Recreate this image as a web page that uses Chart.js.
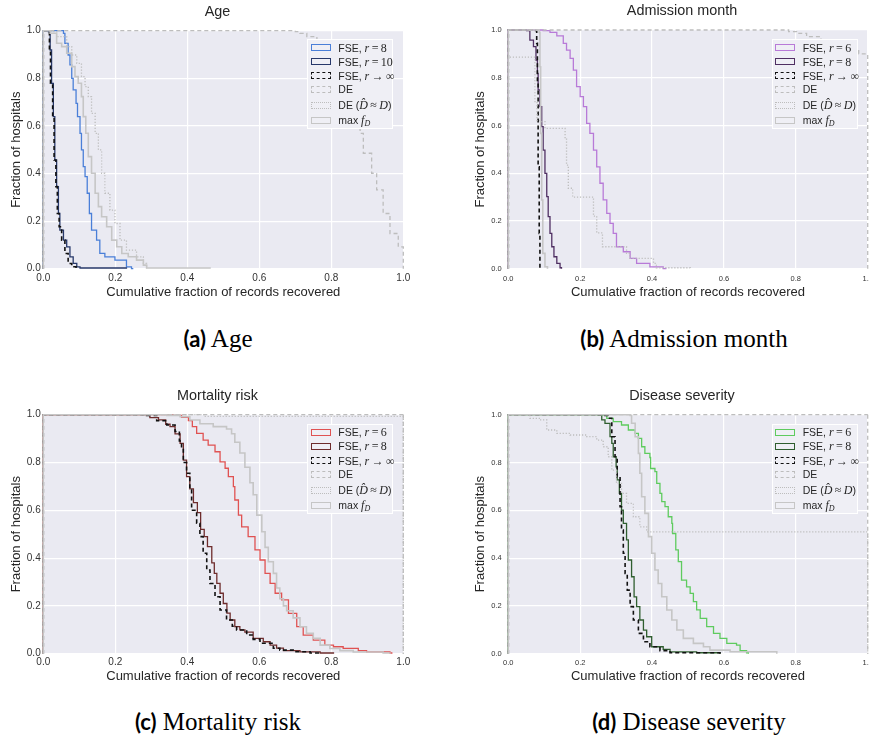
<!DOCTYPE html>
<html><head><meta charset="utf-8">
<script src="https://cdn.jsdelivr.net/npm/chart.js@4.4.0/dist/chart.umd.min.js"></script>
<style>
html,body{margin:0;padding:0;background:#fff;width:869px;height:740px;overflow:hidden;position:relative;}
canvas{position:absolute;}
.ttl{position:absolute;transform:translate(-50%,-50%);white-space:nowrap;font-family:"Liberation Sans",Arial,sans-serif;font-size:14.4px;color:#262626;}
.lg{position:absolute;background:#efeff5;border:1px solid #fff;box-sizing:border-box;}
.row{position:absolute;height:14px;line-height:14px;white-space:nowrap;font-family:"Liberation Sans",Arial,sans-serif;font-size:10.5px;color:#262626;}
.sw{position:absolute;width:20px;height:7px;box-sizing:border-box;}
.m{font-family:"Liberation Serif","DejaVu Serif",serif;font-size:12px;}
.m sub{font-size:8px;vertical-align:-2px;}
.cap{position:absolute;transform:translate(-50%,-50%);white-space:nowrap;font-family:"Liberation Serif",serif;font-size:25px;color:#000;}
.cap b{font-family:Lato,"Liberation Sans",sans-serif;font-weight:700;font-size:22px;}
</style></head><body>
<script>
// ---------- tick labels ----------
const TICKS = [0, 0.2, 0.4, 0.6, 0.8, 1.0];

// ---------- (a) Age : [cumulative fraction recovered, fraction of hospitals] ----------
const ageR8 = [[0,0],[0,1],[0.056,0.989],[0.060,0.947],[0.069,0.898],[0.074,0.856],[0.079,0.800],[0.083,0.751],[0.091,0.695],[0.095,0.639],[0.102,0.569],[0.106,0.499],[0.111,0.429],[0.116,0.387],[0.122,0.317],[0.128,0.232],[0.134,0.162],[0.148,0.120],[0.157,0.064],[0.171,0.050],[0.199,0.036],[0.231,0.008],[0.245,0],[0.25,0]];
const ageR10 = [[0,0],[0,1],[0.014,0.996],[0.019,0.919],[0.023,0.779],[0.028,0.639],[0.032,0.457],[0.037,0.345],[0.042,0.232],[0.046,0.162],[0.056,0.120],[0.065,0.092],[0.074,0.050],[0.083,0.022],[0.093,0.008],[0.102,0.003],[0.231,0]];
const ageInf = [[0,0],[0,1],[0.009,0.996],[0.017,0.919],[0.020,0.779],[0.026,0.639],[0.030,0.457],[0.035,0.345],[0.039,0.232],[0.044,0.176],[0.051,0.120],[0.060,0.064],[0.069,0.022],[0.079,0.008],[0.091,0]];
const ageDE = [[0,0],[0,1],[0.70,0.996],[0.713,0.989],[0.732,0.975],[0.76,0.93],[0.79,0.86],[0.82,0.77],[0.85,0.68],[0.87,0.61],[0.880,0.569],[0.889,0.485],[0.912,0.401],[0.926,0.331],[0.944,0.232],[0.963,0.148],[0.986,0.092],[1.0,0.064],[1.0,0]];
const ageDEhat = [[0,0],[0,1],[0.019,0.996],[0.037,0.975],[0.065,0.933],[0.079,0.898],[0.093,0.863],[0.106,0.807],[0.116,0.765],[0.125,0.723],[0.134,0.653],[0.144,0.569],[0.153,0.499],[0.162,0.401],[0.171,0.317],[0.185,0.246],[0.199,0.190],[0.213,0.120],[0.231,0.078],[0.259,0.050],[0.278,0.022],[0.287,0]];
const ageMax = [[0,0],[0,1],[0.019,0.989],[0.037,0.947],[0.051,0.933],[0.065,0.905],[0.079,0.849],[0.088,0.807],[0.097,0.779],[0.106,0.723],[0.111,0.639],[0.118,0.569],[0.125,0.471],[0.134,0.401],[0.144,0.317],[0.153,0.261],[0.162,0.218],[0.176,0.176],[0.190,0.120],[0.204,0.092],[0.218,0.064],[0.236,0.050],[0.259,0.036],[0.278,0.015],[0.287,0.003],[0.463,0]];

// ---------- (b) Admission month ----------
const admR6 = [[0,0],[0,1],[0.097,0.997],[0.116,0.990],[0.135,0.975],[0.153,0.944],[0.162,0.916],[0.172,0.881],[0.181,0.832],[0.190,0.763],[0.200,0.721],[0.209,0.679],[0.218,0.609],[0.227,0.567],[0.237,0.497],[0.246,0.427],[0.255,0.358],[0.264,0.288],[0.274,0.232],[0.283,0.190],[0.292,0.148],[0.301,0.092],[0.320,0.071],[0.339,0.043],[0.357,0.022],[0.394,0.008],[0.431,0],[0.44,0]];
const admR8 = [[0,0],[0,1],[0.051,0.997],[0.060,0.958],[0.070,0.930],[0.077,0.874],[0.081,0.818],[0.083,0.749],[0.088,0.679],[0.093,0.595],[0.097,0.497],[0.102,0.399],[0.107,0.302],[0.111,0.218],[0.116,0.148],[0.121,0.092],[0.127,0.050],[0.135,0.022],[0.144,0.004],[0.148,0]];
const admInf = [[0,0],[0,1],[0.076,0.998],[0.079,0.944],[0.081,0.777],[0.083,0.427],[0.086,0.148],[0.088,0]];
const admDE = [[0,0],[0,1],[0.78,0.993],[0.802,0.986],[0.830,0.972],[0.87,0.95],[0.92,0.92],[0.975,0.90],[1.0,0.90],[1.0,0]];
const admDEhat = [[0,0],[0,0.886],[0.074,0.70],[0.080,0.62],[0.088,0.616],[0.102,0.588],[0.158,0.546],[0.162,0.434],[0.167,0.337],[0.179,0.30],[0.237,0.22],[0.246,0.15],[0.262,0.092],[0.329,0.064],[0.338,0.043],[0.404,0.022],[0.412,0.004],[0.506,0]];
const admMax = [[0,0],[0,1],[0.086,0.99],[0.088,0.846],[0.090,0.567],[0.093,0.288],[0.096,0.064],[0.102,0.008],[0.109,0]];

// ---------- (c) Mortality risk ----------
const morR6 = [[0,0],[0,1],[0.361,0.997],[0.384,0.989],[0.403,0.975],[0.414,0.950],[0.426,0.922],[0.444,0.894],[0.458,0.873],[0.477,0.845],[0.491,0.803],[0.505,0.776],[0.514,0.741],[0.528,0.699],[0.532,0.643],[0.542,0.580],[0.551,0.531],[0.569,0.490],[0.588,0.434],[0.602,0.392],[0.616,0.336],[0.630,0.294],[0.644,0.253],[0.662,0.225],[0.681,0.169],[0.704,0.113],[0.722,0.078],[0.750,0.057],[0.782,0.036],[0.806,0.029],[0.833,0.022],[0.875,0.013],[0.898,0.008],[0.963,0.003],[0.968,0]];
const morR8 = [[0,0],[0,1],[0.287,0.997],[0.296,0.988],[0.320,0.978],[0.340,0.960],[0.352,0.950],[0.366,0.920],[0.380,0.880],[0.389,0.810],[0.398,0.741],[0.407,0.690],[0.417,0.632],[0.428,0.590],[0.437,0.520],[0.447,0.490],[0.456,0.448],[0.468,0.380],[0.475,0.336],[0.482,0.294],[0.491,0.253],[0.500,0.210],[0.510,0.170],[0.519,0.141],[0.532,0.113],[0.546,0.100],[0.560,0.090],[0.583,0.064],[0.611,0.050],[0.630,0.036],[0.648,0.023],[0.667,0.013],[0.713,0.008],[0.769,0.003],[0.806,0]];
const morInf = [[0,0],[0,1],[0.287,0.997],[0.315,0.975],[0.343,0.957],[0.366,0.930],[0.378,0.890],[0.384,0.860],[0.389,0.800],[0.398,0.755],[0.407,0.685],[0.412,0.600],[0.426,0.546],[0.435,0.490],[0.444,0.420],[0.454,0.350],[0.463,0.294],[0.477,0.238],[0.491,0.183],[0.509,0.141],[0.525,0.115],[0.537,0.099],[0.565,0.078],[0.583,0.060],[0.602,0.044],[0.639,0.023],[0.657,0.015],[0.694,0.008],[0.741,0.003],[0.769,0]];
const morDE = [[0,0],[0,1],[1.0,1.0],[1.0,0]];
const morDEhat = [[0,0],[0,1],[0.45,0.993],[1.0,0.993],[1.0,0]];
const morMax = [[0,0],[0,1],[0.343,0.997],[0.380,0.992],[0.407,0.978],[0.435,0.962],[0.472,0.950],[0.509,0.940],[0.523,0.920],[0.532,0.885],[0.546,0.840],[0.560,0.780],[0.574,0.715],[0.583,0.665],[0.593,0.580],[0.607,0.510],[0.616,0.445],[0.625,0.385],[0.639,0.336],[0.648,0.275],[0.657,0.230],[0.667,0.200],[0.676,0.180],[0.694,0.150],[0.713,0.113],[0.731,0.085],[0.750,0.064],[0.769,0.036],[0.796,0.022],[0.824,0.013],[0.861,0.007],[0.944,0.003],[0.963,0]];

// ---------- (d) Disease severity ----------
const disR6 = [[0,0],[0,1],[0.255,0.997],[0.274,0.985],[0.292,0.971],[0.315,0.957],[0.334,0.936],[0.353,0.922],[0.362,0.901],[0.371,0.866],[0.380,0.838],[0.394,0.821],[0.396,0.775],[0.408,0.762],[0.413,0.713],[0.422,0.671],[0.427,0.636],[0.436,0.615],[0.445,0.573],[0.455,0.545],[0.457,0.503],[0.466,0.434],[0.473,0.385],[0.482,0.308],[0.496,0.280],[0.506,0.252],[0.515,0.218],[0.524,0.183],[0.534,0.148],[0.552,0.113],[0.571,0.085],[0.589,0.064],[0.608,0.043],[0.635,0.036],[0.645,0.013],[0.663,0.004],[0.668,0]];
const disR8 = [[0,0],[0,1],[0.250,0.997],[0.260,0.978],[0.269,0.964],[0.283,0.908],[0.288,0.880],[0.292,0.824],[0.300,0.782],[0.303,0.727],[0.309,0.671],[0.315,0.601],[0.320,0.545],[0.329,0.476],[0.334,0.392],[0.343,0.322],[0.350,0.238],[0.357,0.197],[0.366,0.141],[0.376,0.099],[0.385,0.071],[0.399,0.029],[0.431,0.018],[0.450,0.008],[0.524,0.004],[0.589,0]];
const disInf = [[0,0],[0,1],[0.269,0.997],[0.278,0.985],[0.288,0.908],[0.297,0.824],[0.303,0.741],[0.311,0.615],[0.315,0.517],[0.320,0.420],[0.325,0.336],[0.331,0.266],[0.339,0.197],[0.348,0.141],[0.362,0.085],[0.376,0.050],[0.394,0.029],[0.422,0.013],[0.450,0.004],[0.589,0]];
const disDE = [[0,0],[0,1],[1.0,1.0],[1.0,0]];
const disDEhat = [[0,0],[0,1],[0.060,0.985],[0.088,0.978],[0.107,0.936],[0.135,0.922],[0.172,0.915],[0.218,0.908],[0.246,0.894],[0.264,0.866],[0.278,0.824],[0.288,0.768],[0.301,0.713],[0.315,0.671],[0.329,0.629],[0.348,0.573],[0.366,0.531],[0.385,0.510],[1.0,0.510],[1.0,0]];
const disMax = [[0,0],[0,1],[0.339,0.997],[0.343,0.964],[0.353,0.908],[0.362,0.838],[0.366,0.755],[0.371,0.657],[0.380,0.587],[0.390,0.490],[0.399,0.420],[0.408,0.350],[0.417,0.294],[0.427,0.238],[0.441,0.183],[0.455,0.141],[0.469,0.099],[0.487,0.064],[0.515,0.043],[0.543,0.029],[0.561,0.015],[0.617,0.008],[0.747,0]];

// ---------- legend labels ----------
const M = s => '<span class="m">' + s + '</span>';
const lblR = n => 'FSE, ' + M('<i>r</i>&#8201;=&#8201;' + n);
const lblInf = 'FSE, ' + M('<i>r</i>&#8201;&#8594;&#8201;&#8734;');
const lblDE = 'DE';
const lblDEhat = 'DE (' + M('<i>D&#770;</i>&#8201;&#8776;&#8201;<i>D</i>') + ')';
const lblMax = 'max ' + M('<i>f</i><sub><i>D</i></sub>');

// ---------- styles (order: lower = drawn later / on top, as in plotting order) ----------
const GREY = '#bdbdbd', MAXC = '#c6c6c6';
function styles(c1, c2, l1, l2) {
  return [
    {lbl: l1, color: c1, w: 1.3, dash: [], css: 'solid', order: 5},
    {lbl: l2, color: c2, w: 1.3, dash: [], css: 'solid', order: 4},
    {lbl: lblInf, color: '#111', w: 1.6, dash: [4, 3], css: 'dashed', order: 3},
    {lbl: lblDE, color: GREY, w: 1.3, dash: [4, 3], css: 'dashed', order: 2},
    {lbl: lblDEhat, color: GREY, w: 1.3, dash: [1.2, 1.8], css: 'dotted', order: 1},
    {lbl: lblMax, color: MAXC, w: 1.6, dash: [], css: 'solid', order: 0}
  ];
}

const bgPlugin = {
  id: 'bg',
  beforeDraw(chart) {
    const {ctx, chartArea: a} = chart;
    ctx.save(); ctx.fillStyle = '#EAEAF2';
    ctx.fillRect(a.left, a.top, a.right - a.left, a.bottom - a.top);
    ctx.restore();
  }
};

function panel(p) {
  const cv = document.createElement('canvas');
  cv.width = p.W; cv.height = p.H;
  cv.style.left = p.left + 'px'; cv.style.top = p.top + 'px';
  cv.style.width = p.W + 'px'; cv.style.height = p.H + 'px';
  document.body.appendChild(cv);
  const st = styles(p.c1, p.c2, p.l1, p.l2);
  const datasets = p.series.map((s, i) => ({
    label: 'd' + i,
    data: s.map(q => ({x: q[0], y: q[1]})),
    showLine: true, stepped: 'before', fill: false,
    borderColor: st[i].color, borderWidth: st[i].w, borderDash: st[i].dash,
    pointRadius: 0, pointHoverRadius: 0, clip: 4, order: st[i].order
  }));
  const FONT = '"Liberation Sans", Arial, sans-serif';
  const tickFmt = v => Number(v).toFixed(1);
  new Chart(cv, {
    type: 'scatter',
    data: {datasets},
    plugins: [bgPlugin],
    options: {
      responsive: false, animation: false, events: [],
      layout: {padding: {left: 0, right: p.padR, top: p.padT, bottom: 0}},
      plugins: {legend: {display: false}, tooltip: {enabled: false}, title: {display: false}},
      scales: {
        x: {
          type: 'linear', min: 0, max: 1, position: 'bottom',
          afterBuildTicks: s => { s.ticks = TICKS.map(v => ({value: v})); },
          ticks: {autoSkip: false, maxRotation: 0, minRotation: 0, padding: p.xTickPad, color: '#333',
                  font: {family: FONT, size: p.tick}, callback: tickFmt},
          grid: {color: '#fff', lineWidth: 1.2, drawTicks: false},
          border: {display: false},
          title: {display: true, text: 'Cumulative fraction of records recovered', color: '#262626',
                  font: {family: FONT, size: 13}, padding: {top: 0, bottom: p.xTitlePad}},
          afterFit: s => { s.height = p.xH; }
        },
        y: {
          type: 'linear', min: 0, max: 1, position: 'left',
          afterBuildTicks: s => { s.ticks = TICKS.map(v => ({value: v})); },
          ticks: {padding: p.yTickPad, color: '#333', font: {family: FONT, size: p.tick}, callback: tickFmt},
          grid: {color: '#fff', lineWidth: 1.2, drawTicks: false},
          border: {display: false},
          title: {display: true, text: 'Fraction of hospitals', color: '#262626',
                  font: {family: FONT, size: 13}, padding: {top: p.yTitlePad, bottom: 0}},
          afterFit: s => { s.width = p.yW; }
        }
      }
    }
  });
  // title
  const t = document.createElement('div'); t.className = 'ttl';
  t.style.left = p.tx + 'px'; t.style.top = p.ty + 'px'; t.textContent = p.title;
  document.body.appendChild(t);
  // legend
  const box = document.createElement('div'); box.className = 'lg';
  box.style.left = p.lgx + 'px'; box.style.top = p.lgy + 'px';
  box.style.width = p.lgw + 'px'; box.style.height = '90px';
  const rows = [7.4, 21.4, 35.7, 49, 65, 80];
  st.forEach((s, i) => {
    const sw = document.createElement('div'); sw.className = 'sw';
    sw.style.left = '2.4px'; sw.style.top = (rows[i] - 3.5) + 'px';
    sw.style.border = s.w + 'px ' + s.css + ' ' + s.color;
    box.appendChild(sw);
    const tx = document.createElement('div'); tx.className = 'row';
    tx.style.left = '30px'; tx.style.top = (rows[i] - 7) + 'px';
    tx.innerHTML = s.lbl;
    box.appendChild(tx);
  });
  document.body.appendChild(box);
  // caption
  const c = document.createElement('div'); c.className = 'cap';
  c.style.left = p.cx + 'px'; c.style.top = p.cy + 'px';
  c.innerHTML = '<b>(' + p.letter + ')</b> ' + p.title;
  document.body.appendChild(c);
}

panel({letter: 'a', title: 'Age', left: 0, top: 0, W: 420, H: 305, padR: 16.7, padT: 30.7,
  yW: 43.3, xH: 36.3, tick: 10, xTickPad: 4, yTickPad: 2.6, xTitlePad: 4.7, yTitlePad: 8.2,
  c1: '#4a7fd8', c2: '#27386a', l1: lblR(8), l2: lblR(10),
  series: [ageR8, ageR10, ageInf, ageDE, ageDEhat, ageMax],
  tx: 217.5, ty: 11, lgx: 307.3, lgy: 39.3, lgw: 86, cx: 218, cy: 339});
panel({letter: 'b', title: 'Admission month', left: 430, top: 0, W: 460, H: 305, padR: 22.3, padT: 30,
  yW: 78.3, xH: 36.3, tick: 7.5, xTickPad: 5.5, yTickPad: 6.6, xTitlePad: 5.2, yTitlePad: 42.2,
  c1: '#b87ad8', c2: '#4f2f62', l1: lblR(6), l2: lblR(8),
  series: [admR6, admR8, admInf, admDE, admDEhat, admMax],
  tx: 682, ty: 10, lgx: 771.7, lgy: 39.3, lgw: 86.6, cx: 684, cy: 339});
panel({letter: 'c', title: 'Mortality risk', left: 0, top: 380, W: 420, H: 305, padR: 16.7, padT: 34.7,
  yW: 43.3, xH: 31.3, tick: 10, xTickPad: 3, yTickPad: 2.6, xTitlePad: 0.7, yTitlePad: 8.2,
  c1: '#e05252', c2: '#6e2c2c', l1: lblR(6), l2: lblR(8),
  series: [morR6, morR8, morInf, morDE, morDEhat, morMax],
  tx: 217.5, ty: 395, lgx: 307.3, lgy: 424, lgw: 86, cx: 218, cy: 722});
panel({letter: 'd', title: 'Disease severity', left: 430, top: 380, W: 460, H: 305, padR: 22.3, padT: 34.7,
  yW: 78.3, xH: 31.3, tick: 7.5, xTickPad: 4.5, yTickPad: 6.6, xTitlePad: 0.7, yTitlePad: 42.2,
  c1: '#5ecb5e', c2: '#2f5e2f', l1: lblR(6), l2: lblR(8),
  series: [disR6, disR8, disInf, disDE, disDEhat, disMax],
  tx: 682, ty: 395, lgx: 771.7, lgy: 424, lgw: 86.6, cx: 689, cy: 722});
</script>
</body></html>
